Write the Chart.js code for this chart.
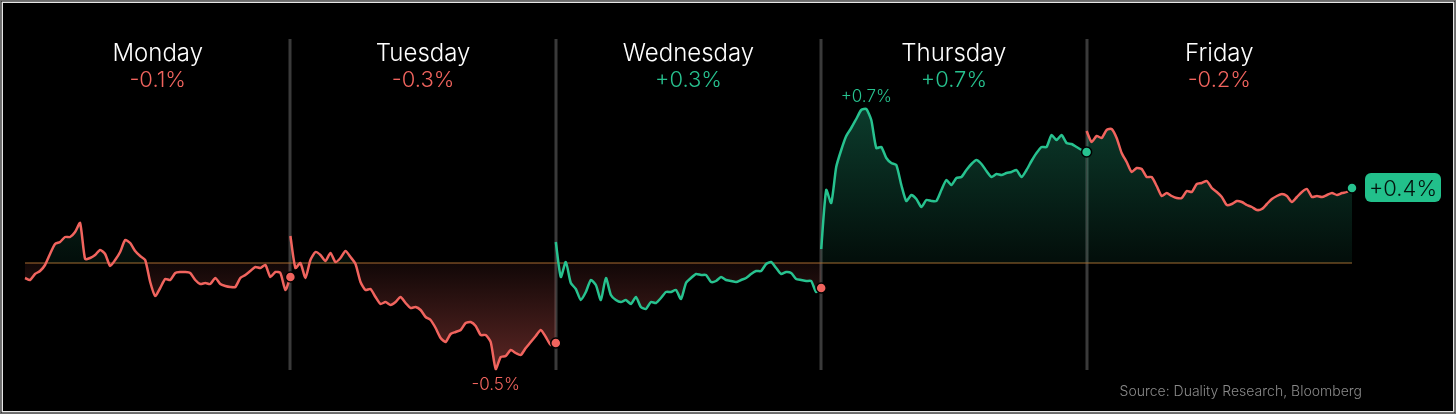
<!DOCTYPE html>
<html>
<head>
<meta charset="utf-8">
<title>Week in review</title>
<script src="https://cdn.jsdelivr.net/npm/chart.js@4.4.1/dist/chart.umd.min.js"></script>
<style>
  html, body { margin: 0; padding: 0; background: #000; }
  canvas { display: block; }
</style>
</head>
<body>
<canvas id="chartWeek" width="1456" height="414"></canvas>
<script>
// Days and their daily change labels
const days = ['Monday', 'Tuesday', 'Wednesday', 'Thursday', 'Friday'];
const dayChanges = ['-0.1%', '-0.3%', '+0.3%', '+0.7%', '-0.2%'];
const weekLabel = '+0.4%';
const highLabel = '+0.7%';
const lowLabel = '-0.5%';
const sourceText = 'Source: Duality Research, Bloomberg';

// Cumulative % vs previous close, sampled evenly through each session
const monday = [
  -0.075, -0.085, -0.055, -0.04, -0.01, 0.045, 0.095, 0.105, 0.13, 0.13,
  0.155, 0.2, 0.02, 0.025, 0.04, 0.065, 0.045, -0.015, 0.015, 0.055,
  0.115, 0.1, 0.06, 0.035, 0.015, -0.095, -0.165, -0.125, -0.08, -0.085,
  -0.05, -0.045, -0.045, -0.05, -0.085, -0.105, -0.1, -0.105, -0.075, -0.105,
  -0.115, -0.12, -0.12, -0.075, -0.06, -0.04, -0.02, -0.025, -0.01, -0.07,
  -0.045, -0.05, -0.135, -0.07
];
const tuesday = [
  0.135, -0.025, 0, -0.075, 0.015, 0.055, 0.04, 0.01, 0.05, 0.005,
  0.025, 0.06, 0.03, -0.005, -0.095, -0.135, -0.13, -0.17, -0.205, -0.195,
  -0.21, -0.195, -0.17, -0.2, -0.225, -0.22, -0.235, -0.27, -0.285, -0.325,
  -0.375, -0.395, -0.355, -0.345, -0.335, -0.3, -0.295, -0.315, -0.36, -0.36,
  -0.395, -0.53, -0.47, -0.465, -0.435, -0.45, -0.46, -0.425, -0.395, -0.365,
  -0.335, -0.37, -0.41, -0.4
];
const wednesday = [
  0.105, -0.07, 0.005, -0.1, -0.13, -0.185, -0.145, -0.085, -0.11, -0.185,
  -0.075, -0.16, -0.185, -0.195, -0.185, -0.205, -0.17, -0.22, -0.23, -0.195,
  -0.2, -0.175, -0.145, -0.145, -0.135, -0.18, -0.1, -0.075, -0.055, -0.06,
  -0.06, -0.095, -0.09, -0.07, -0.085, -0.09, -0.095, -0.085, -0.075, -0.055,
  -0.04, -0.04, -0.005, 0.005, -0.025, -0.055, -0.045, -0.05, -0.08, -0.085,
  -0.09, -0.09, -0.145, -0.125
];
const thursday = [
  0.07, 0.365, 0.3, 0.48, 0.565, 0.635, 0.675, 0.72, 0.765, 0.77,
  0.715, 0.575, 0.58, 0.525, 0.5, 0.49, 0.39, 0.31, 0.34, 0.32,
  0.28, 0.315, 0.31, 0.31, 0.365, 0.415, 0.39, 0.425, 0.43, 0.465,
  0.495, 0.515, 0.495, 0.46, 0.43, 0.445, 0.44, 0.45, 0.455, 0.465,
  0.43, 0.465, 0.51, 0.55, 0.58, 0.58, 0.64, 0.615, 0.64, 0.6,
  0.595, 0.58, 0.565, 0.555
];
const friday = [
  0.66, 0.605, 0.635, 0.625, 0.665, 0.67, 0.625, 0.55, 0.505, 0.455,
  0.475, 0.47, 0.43, 0.43, 0.385, 0.335, 0.35, 0.335, 0.325, 0.325,
  0.36, 0.355, 0.395, 0.4, 0.41, 0.375, 0.355, 0.33, 0.29, 0.295,
  0.31, 0.305, 0.29, 0.28, 0.265, 0.27, 0.295, 0.32, 0.335, 0.345,
  0.335, 0.305, 0.33, 0.355, 0.37, 0.33, 0.335, 0.33, 0.34, 0.35,
  0.34, 0.35, 0.355, 0.375
];
const dayValues = [monday, tuesday, wednesday, thursday, friday];

const RED = '#f1645e';
const GREEN = '#27c28f';
const FONT = 'Inter, "Noto Sans", sans-serif';

// Fill: green above the zero line, red below, stronger away from it
function areaGradient(context) {
  const chart = context.chart;
  const area = chart.chartArea;
  if (!area || !chart.scales.y) return 'rgba(0,0,0,0)';
  const y0 = chart.scales.y.getPixelForValue(0);
  const stop = (y0 - area.top) / (area.bottom - area.top);
  const g = chart.ctx.createLinearGradient(0, area.top, 0, area.bottom);
  g.addColorStop(0, 'rgba(39,194,143,0.42)');
  g.addColorStop(stop, 'rgba(39,194,143,0.07)');
  g.addColorStop(stop, 'rgba(241,100,94,0.07)');
  g.addColorStop(1, 'rgba(241,100,94,0.42)');
  return g;
}

const datasets = dayValues.map((vals, d) => ({
  label: days[d],
  data: vals.map((v, i) => ({ x: d + i / (vals.length - 1), y: v })),
  borderColor: dayChanges[d].startsWith('-') ? RED : GREEN,
  borderWidth: 2.5,
  tension: 0.2,
  fill: { value: 0 },
  backgroundColor: areaGradient,
  pointRadius: ctx => ctx.dataIndex === vals.length - 1 ? 5 : 0,
  pointBackgroundColor: ctx => (ctx.raw && ctx.raw.y >= 0) ? GREEN : RED,
  pointBorderColor: '#000',
  pointBorderWidth: 1.5,
  clip: false
}));

// Background, separators, labels, badge
const decor = {
  id: 'decor',
  beforeDraw(chart) {
    const c = chart.ctx;
    c.save();
    c.fillStyle = '#000';
    c.fillRect(0, 0, chart.width, chart.height);
    c.restore();
  },
  beforeDatasetsDraw(chart) {
    const { ctx: c, chartArea: a, scales: { x, y } } = chart;
    c.save();
    c.strokeStyle = '#3a3a3a';
    c.lineWidth = 3;
    for (let d = 1; d < days.length; d++) {
      const px = Math.round(x.getPixelForValue(d));
      c.beginPath();
      c.moveTo(px, 39);
      c.lineTo(px, 370);
      c.stroke();
    }
    const y0 = Math.round(y.getPixelForValue(0));
    c.strokeStyle = '#a36a2e';
    c.lineWidth = 1.2;
    c.beginPath();
    c.moveTo(a.left, y0);
    c.lineTo(a.right, y0);
    c.stroke();
    c.restore();
  },
  afterDraw(chart) {
    const { ctx: c, scales: { x, y } } = chart;
    c.save();
    c.textAlign = 'center';
    c.textBaseline = 'alphabetic';

    days.forEach((name, d) => {
      const cx = x.getPixelForValue(d + 0.5);
      c.font = '300 24px ' + FONT;
      c.fillStyle = '#ffffff';
      c.fillText(name, cx, 61);
      c.font = '300 22px ' + FONT;
      c.fillStyle = dayChanges[d].startsWith('-') ? RED : GREEN;
      c.fillText(dayChanges[d], cx, 87);
    });

    // intraday high (Thursday) and low (Tuesday)
    const hi = Math.max(...thursday);
    const hiIdx = thursday.indexOf(hi);
    c.font = '300 17px ' + FONT;
    c.fillStyle = GREEN;
    c.fillText(highLabel, x.getPixelForValue(3 + hiIdx / (thursday.length - 1)), y.getPixelForValue(hi) - 7);

    const lo = Math.min(...tuesday);
    const loIdx = tuesday.indexOf(lo);
    c.fillStyle = RED;
    c.fillText(lowLabel, x.getPixelForValue(1 + loIdx / (tuesday.length - 1)), y.getPixelForValue(lo) + 21);

    // week change badge
    const last = friday[friday.length - 1];
    const lx = x.getPixelForValue(5);
    const ly = y.getPixelForValue(last);
    c.fillStyle = '#22c08b';
    c.beginPath();
    c.roundRect(lx + 13, ly - 15, 76, 29, 6);
    c.fill();
    c.fillStyle = '#04140e';
    c.font = '300 22px ' + FONT;
    c.textBaseline = 'middle';
    c.fillText(weekLabel, lx + 51, ly + 1);

    // source
    c.textAlign = 'right';
    c.textBaseline = 'alphabetic';
    c.font = '300 14px ' + FONT;
    c.fillStyle = '#8a8a8a';
    c.fillText(sourceText, 1362, 396);

    // frame
    c.strokeStyle = '#6a6a6a';
    c.lineWidth = 1;
    c.strokeRect(0.5, 0.5, chart.width - 1, chart.height - 1);
    c.strokeStyle = '#e6e6e6';
    c.lineWidth = 1.5;
    c.strokeRect(2.25, 2.25, chart.width - 4.5, chart.height - 4.5);
    c.restore();
  }
};

const ctx = document.getElementById('chartWeek').getContext('2d');
new Chart(ctx, {
  type: 'line',
  data: { datasets },
  options: {
    responsive: false,
    animation: false,
    events: [],
    layout: { padding: { left: 25, right: 104, top: 33, bottom: 31 } },
    plugins: {
      legend: { display: false },
      tooltip: { enabled: false }
    },
    scales: {
      x: { type: 'linear', min: 0, max: 5, display: false },
      y: { type: 'linear', min: -0.6, max: 1.15, display: false }
    }
  },
  plugins: [decor]
});
</script>
</body>
</html>
